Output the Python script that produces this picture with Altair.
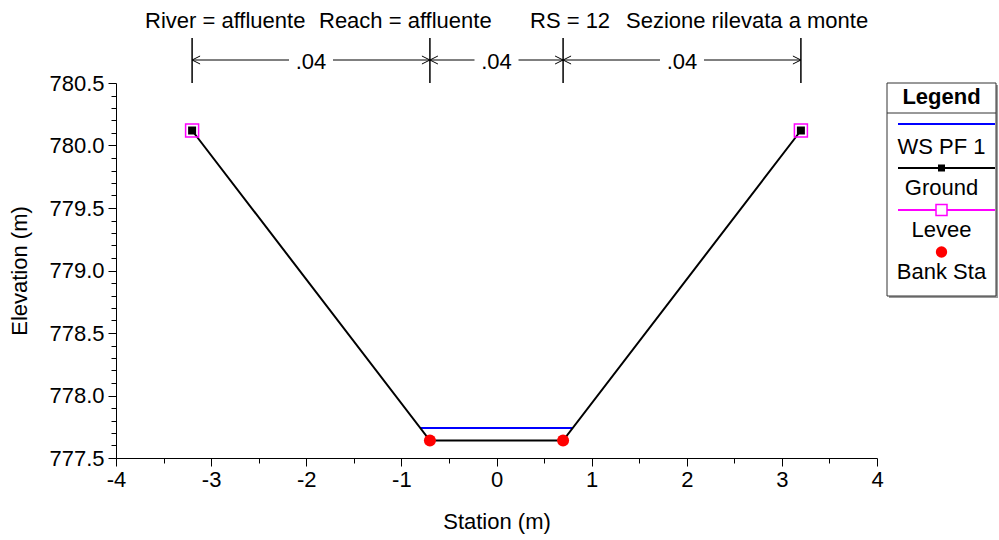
import altair as alt
import pandas as pd

# ---------------- data ----------------
ground_station = [-3.2, -0.7, 0.7, 3.2]
ground_elev = [780.12, 777.64, 777.64, 780.12]
ws_station = [-0.80, 0.80]
ws_elev = [777.74, 777.74]
levee_station = [-3.2, 3.2]
levee_elev = [780.12, 780.12]
bank_station = [-0.7, 0.7]
bank_elev = [777.64, 777.64]
n_break_station = [-3.2, -0.7, 0.7, 3.2]
n_value_labels = [".04", ".04", ".04"]
title_parts = ["River = affluente", "Reach = affluente", "RS = 12", "Sezione rilevata a monte"]
x_tick_values = [-4, -3.5, -3, -2.5, -2, -1.5, -1, -0.5, 0, 0.5, 1, 1.5, 2, 2.5, 3, 3.5, 4]
y_tick_values = [round(777.5 + 0.1 * i, 1) for i in range(31)]
legend_labels = ["WS PF 1", "Ground", "Levee", "Bank Sta"]
legend_colors = ["#0000ff", "#000000", "#ff00ff", "#ff0000"]

# ---------------- layout / style ----------------
FONT = "Liberation Sans"
FS = 22
W, H = 761, 375
title_px = [29, 203, 414, 510]
leg_x0, leg_x1 = 771, 880
leg_cx = (leg_x0 + leg_x1) / 2
leg_line_y = [41, 85, 127, 169]
leg_text_y = [64, 105, 147, 189]

ground_df = pd.DataFrame({"station": ground_station, "elev": ground_elev})
ws_df = pd.DataFrame({"station": ws_station, "elev": ws_elev})
levee_df = pd.DataFrame({"station": levee_station, "elev": levee_elev})
bank_df = pd.DataFrame({"station": bank_station, "elev": bank_elev})
nb_df = pd.DataFrame({"station": n_break_station})
seg_df = pd.DataFrame({
    "start": n_break_station[:-1],
    "end": n_break_station[1:],
    "label": n_value_labels,
})
seg_df["mid"] = (seg_df["start"] + seg_df["end"]) / 2
one = pd.DataFrame({"d": [0]})

xscale = alt.Scale(domain=[-4, 4], nice=False, zero=False)
yscale = alt.Scale(domain=[777.5, 780.5], nice=False, zero=False)

x_major = "abs(datum.value - round(datum.value)) < 0.001"
y_major = "abs(datum.value * 2 - round(datum.value * 2)) < 0.001"

xaxis = alt.Axis(
    values=x_tick_values,
    labelExpr=f"{x_major} ? '' + round(datum.value) : ''",
    tickSize={"condition": {"test": x_major, "value": 8}, "value": 5},
    labelFont=FONT, labelFontSize=FS, labelColor="black", labelPadding=3,
    labelFlush=False, labelOverlap=False,
    domainColor="black", domainWidth=1, tickColor="black", tickWidth=1, grid=False,
    title="Station (m)", titleFont=FONT, titleFontSize=FS, titleFontWeight="normal",
    titleColor="black", titleX=W / 2, titleY=63, titleBaseline="middle", titleAlign="center",
)
yaxis = alt.Axis(
    values=y_tick_values,
    labelExpr=f"{y_major} ? format(datum.value, '.1f') : ''",
    tickSize={"condition": {"test": y_major, "value": 8}, "value": 5},
    labelFont=FONT, labelFontSize=FS, labelColor="black", labelPadding=4,
    labelFlush=False, labelOverlap=False,
    domainColor="black", domainWidth=1, tickColor="black", tickWidth=1, grid=False,
    title="Elevation (m)", titleFont=FONT, titleFontSize=FS, titleFontWeight="normal",
    titleColor="black", titleX=-97, titleY=H / 2, titleAngle=270,
    titleBaseline="middle", titleAlign="center",
)


def X(field):
    return alt.X(field, type="quantitative", scale=xscale, axis=xaxis)


def Y(field):
    return alt.Y(field, type="quantitative", scale=yscale, axis=yaxis)


layers = []

# water surface
layers.append(alt.Chart(ws_df).mark_line(color="#0000ff", strokeWidth=2).encode(x=X("station"), y=Y("elev")))
# ground
layers.append(alt.Chart(ground_df).mark_line(color="black", strokeWidth=2).encode(x=X("station"), y=Y("elev")))
layers.append(alt.Chart(levee_df).mark_point(shape="square", filled=False, color="#ff00ff", size=169,
                                             strokeWidth=1.5, opacity=1).encode(x=X("station"), y=Y("elev")))
layers.append(alt.Chart(ground_df).mark_point(shape="square", filled=True, color="black", size=64,
                                              opacity=1).encode(x=X("station"), y=Y("elev")))
layers.append(alt.Chart(bank_df).mark_point(shape="circle", filled=True, color="#ff0000", size=145,
                                            opacity=1).encode(x=X("station"), y=Y("elev")))

# Manning's n annotation above the plot
layers.append(alt.Chart(nb_df).mark_rule(color="black", strokeWidth=1.5).encode(
    x=X("station"), y=alt.value(-45), y2=alt.value(0)))
layers.append(alt.Chart(seg_df).mark_rule(color="black", strokeWidth=1, x2Offset=-22).encode(
    x=X("start"), x2=alt.X2("mid"), y=alt.value(-23)))
layers.append(alt.Chart(seg_df).mark_rule(color="black", strokeWidth=1, xOffset=22).encode(
    x=X("mid"), x2=alt.X2("end"), y=alt.value(-23)))
layers.append(alt.Chart(seg_df).mark_point(shape="M1,-0.5L0,0L1,0.5", filled=False, size=256, color="black",
                                           strokeWidth=1, opacity=1).encode(x=X("start"), y=alt.value(-23)))
layers.append(alt.Chart(seg_df).mark_point(shape="M-1,-0.5L0,0L-1,0.5", filled=False, size=256, color="black",
                                           strokeWidth=1, opacity=1).encode(x=X("end"), y=alt.value(-23)))
layers.append(alt.Chart(seg_df).mark_text(font=FONT, fontSize=FS, baseline="middle", align="center",
                                          color="black").encode(x=X("mid"), y=alt.value(-21), text="label"))

# title line
for txt, px in zip(title_parts, title_px):
    layers.append(alt.Chart(one).mark_text(text=txt, font=FONT, fontSize=FS, align="left", baseline="middle",
                                           color="black").encode(x=alt.value(px), y=alt.value(-62)))

# legend box
layers.append(alt.Chart(one).mark_rect(fill="#9a9a9a").encode(
    x=alt.value(leg_x0 + 2), x2=alt.value(leg_x1 + 2), y=alt.value(2), y2=alt.value(215)))
layers.append(alt.Chart(one).mark_rect(fill="white", stroke="#333333", strokeWidth=1).encode(
    x=alt.value(leg_x0), x2=alt.value(leg_x1), y=alt.value(0), y2=alt.value(213)))
layers.append(alt.Chart(one).mark_text(text="Legend", font=FONT, fontSize=FS, fontWeight="bold",
                                       align="center", baseline="middle", color="black").encode(
    x=alt.value(leg_cx), y=alt.value(14)))
layers.append(alt.Chart(one).mark_rule(color="#333333", strokeWidth=1).encode(
    x=alt.value(leg_x0), x2=alt.value(leg_x1), y=alt.value(30)))

for i, (lab, col) in enumerate(zip(legend_labels, legend_colors)):
    if i < 3:
        layers.append(alt.Chart(one).mark_rule(color=col, strokeWidth=2).encode(
            x=alt.value(leg_x0 + 11), x2=alt.value(leg_x1 - 1), y=alt.value(leg_line_y[i])))
    if i == 1:
        layers.append(alt.Chart(one).mark_point(shape="square", filled=True, color=col, size=49, opacity=1).encode(
            x=alt.value(leg_cx), y=alt.value(leg_line_y[i])))
    if i == 2:
        layers.append(alt.Chart(one).mark_point(shape="square", filled=True, fill="white", stroke=col,
                                                strokeWidth=1.5, size=121, opacity=1).encode(
            x=alt.value(leg_cx), y=alt.value(leg_line_y[i])))
    if i == 3:
        layers.append(alt.Chart(one).mark_point(shape="circle", filled=True, color=col, size=130, opacity=1).encode(
            x=alt.value(leg_cx), y=alt.value(leg_line_y[i])))
    layers.append(alt.Chart(one).mark_text(text=lab, font=FONT, fontSize=FS, align="center", baseline="middle",
                                           color="black").encode(x=alt.value(leg_cx), y=alt.value(leg_text_y[i])))

chart = alt.layer(*layers).properties(
    width=W, height=H,
    autosize=alt.AutoSizeParams(type="none"),
    padding={"left": 116, "top": 83, "right": 122, "bottom": 82},
    background="white",
).configure_view(strokeWidth=0)

chart.save("out.html", embed_options={"renderer": "svg", "actions": False})
